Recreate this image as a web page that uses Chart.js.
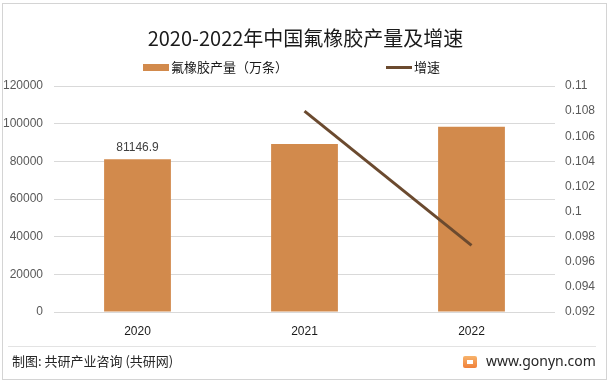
<!DOCTYPE html>
<html>
<head>
<meta charset="utf-8">
<script src="https://cdn.jsdelivr.net/npm/chart.js@4.4.0/dist/chart.umd.min.js"></script>
<style>
  html, body { margin: 0; padding: 0; background: #fff; }
  body { width: 611px; height: 386px; position: relative; overflow: hidden; font-family: "Noto Sans CJK SC", "Noto Sans", sans-serif; }
  #frame { position: absolute; left: 2px; top: 3px; width: 605px; height: 377px; border: 1px solid #d4d4d4; box-sizing: border-box; }
  #title { position: absolute; left: 0; width: 611px; top: 24px; text-align: center; font-size: 20px; color: #1a1a1a; line-height: 28px; }
  #chartWrap { position: absolute; left: 0; top: 0; width: 611px; height: 386px; }
  .leg { position: absolute; top: 58px; font-size: 13px; color: #1a1a1a; line-height: 18px; }
  .sw { position: absolute; }
  #sep { position: absolute; left: 8px; width: 588px; top: 346px; height: 1px; background: #e3e3e3; }
  #src { position: absolute; left: 12px; top: 351px; font-size: 13px; color: #262626; line-height: 20px; }
  #site { position: absolute; left: 486px; top: 350px; font-size: 14px; color: #262626; line-height: 22px; font-family: "Noto Sans", sans-serif; }
  #logo { position: absolute; left: 463px; top: 356px; width: 14px; height: 12px; border-radius: 2px; background: linear-gradient(#f7b36b, #f0803a); }
  #logo:after { content: ""; position: absolute; left: 4px; top: 4px; width: 6px; height: 4px; background: #fff; }
</style>
</head>
<body>
<div id="frame"></div>
<div id="chartWrap"><canvas id="c" width="611" height="386"></canvas></div>
<div id="title">2020-2022年中国氟橡胶产量及增速</div>
<div class="sw" style="left:143px;top:64px;width:26px;height:7px;background:#D28A4C;"></div>
<div class="leg" style="left:171px;">氟橡胶产量（万条）</div>
<div class="sw" style="left:386px;top:66px;width:26px;height:3px;background:#6B4A2F;"></div>
<div class="leg" style="left:414px;">增速</div>
<div id="sep"></div>
<div id="src">制图: 共研产业咨询 (共研网)</div>
<div id="logo"></div>
<div id="site">www.gonyn.com</div>
<script>
const categories = ["2020", "2021", "2022"];
const production = [81146.9, 89200, 98400];
const growth = [null, 0.108, 0.0973];
const leftTicks = [0, 20000, 40000, 60000, 80000, 100000, 120000];
const rightTicks = [0.092, 0.094, 0.096, 0.098, 0.1, 0.102, 0.104, 0.106, 0.108, 0.11];
const labelledValues = ["81146.9", null, null];

const dataLabelPlugin = {
  id: "dataLabel",
  afterDatasetsDraw(chart) {
    const meta = chart.getDatasetMeta(1);
    const ctx = chart.ctx;
    ctx.save();
    ctx.font = "12px 'Liberation Sans', 'DejaVu Sans', sans-serif";
    ctx.fillStyle = "#404040";
    ctx.textAlign = "center";
    ctx.textBaseline = "bottom";
    meta.data.forEach((bar, i) => {
      if (labelledValues[i]) ctx.fillText(labelledValues[i], bar.x, bar.y - 5);
    });
    ctx.restore();
  }
};

new Chart(document.getElementById("c"), {
  data: {
    labels: categories,
    datasets: [
      {
        type: "line",
        label: "增速",
        data: growth,
        yAxisID: "y1",
        borderColor: "#6B4A2F",
        borderWidth: 3,
        pointRadius: 0,
        tension: 0,
        order: 0
      },
      {
        type: "bar",
        label: "氟橡胶产量（万条）",
        data: production,
        yAxisID: "y",
        backgroundColor: "#D28A4C",
        barPercentage: 0.8,
        categoryPercentage: 0.5,
        order: 1
      }
    ]
  },
  plugins: [dataLabelPlugin],
  options: {
    responsive: false,
    animation: false,
    layout: { padding: { left: 0, right: 0, top: 86, bottom: 40 } },
    plugins: { legend: { display: false }, tooltip: { enabled: false } },
    scales: {
      x: {
        grid: { display: false },
        border: { display: false },
        ticks: { color: "#1a1a1a", font: { size: 12, family: "'Liberation Sans', 'DejaVu Sans', sans-serif" }, padding: 4 },
        afterFit(s) { s.height = 34; }
      },
      y: {
        position: "left",
        min: 0, max: 120000,
        afterBuildTicks(s) { s.ticks = leftTicks.map(v => ({ value: v })); },
        grid: { color: "#d9d9d9", drawTicks: false },
        border: { display: false },
        ticks: { color: "#595959", font: { size: 12, family: "'Liberation Sans', 'DejaVu Sans', sans-serif" }, padding: 11, callback: v => String(v) },
        afterFit(s) { s.width = 54; }
      },
      y1: {
        position: "right",
        min: 0.092, max: 0.11,
        afterBuildTicks(s) { s.ticks = rightTicks.map(v => ({ value: v })); },
        grid: { display: false, drawTicks: false },
        border: { display: false },
        ticks: { color: "#595959", font: { size: 12, family: "'Liberation Sans', 'DejaVu Sans', sans-serif" }, padding: 10, callback: v => String(parseFloat(Number(v).toFixed(3))) },
        afterFit(s) { s.width = 56; }
      }
    }
  }
});
</script>
</body>
</html>
